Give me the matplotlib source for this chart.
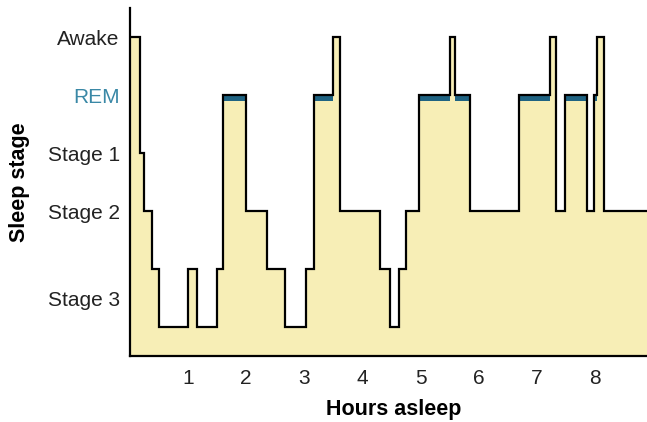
import matplotlib.pyplot as plt
import numpy as np

plt.rcParams['font.family'] = ['Liberation Sans', 'DejaVu Sans']

# hypnogram: start hour of each segment and the level held until the next one
# levels: 5 awake, 4 REM, 3 stage 1, 2 stage 2, 1 / 0 stage 3 (light / deep)
seg_start = [0.0, 0.17, 0.24, 0.375, 0.50, 1.0, 1.15, 1.49, 1.60, 2.0,
             2.35, 2.67, 3.03, 3.17, 3.50, 3.62, 4.31, 4.47, 4.63, 4.75,
             4.98, 5.51, 5.59, 5.86, 6.70, 7.23, 7.34, 7.48, 7.86, 7.98,
             8.04, 8.16]
seg_level = [5, 3, 2, 1, 0, 1, 0, 1, 4, 2,
             1, 0, 1, 4, 5, 2, 1, 0, 1, 2,
             4, 5, 4, 2, 4, 5, 2, 4, 2, 4,
             5, 2]
end_hour = 8.9

stage_names = ["Stage 3", "Stage 2", "Stage 1", "REM", "Awake"]
stage_pos = [0.5, 2, 3, 4, 5]
hour_ticks = [1, 2, 3, 4, 5, 6, 7, 8]

fill_col = "#f7eeb6"
rem_col = "#1f6382"

x = np.array(seg_start + [end_hour])
y = np.array(seg_level + [seg_level[-1]])

fig = plt.figure(figsize=(6.47, 4.22), dpi=100)
ax = fig.add_axes([0.201, 0.156, 0.799, 0.825])

ax.fill_between(x, -0.5, y, step="post", color=fill_col, lw=0)

# blue band under the REM plateaus
for i in range(len(seg_level)):
    if seg_level[i] == 4:
        x0 = seg_start[i]
        x1 = x[i + 1]
        ax.fill_between([x0, x1], 3.9, 4.0, color=rem_col, lw=0)

ax.step(x, y, where="post", color="black", lw=1.6, solid_joinstyle="miter")

ax.set_xlim(0, end_hour)
ax.set_ylim(-0.5, 5.5)

ax.spines["top"].set_visible(False)
ax.spines["right"].set_visible(False)
ax.spines["left"].set_linewidth(1.6)
ax.spines["bottom"].set_linewidth(1.6)

ax.set_xticks(hour_ticks)
ax.set_xticklabels([str(h) for h in hour_ticks])
ax.set_yticks(stage_pos)
ax.set_yticklabels(stage_names)
ax.tick_params(axis="both", length=0, labelsize=15, colors="#222222")
ax.tick_params(axis="y", pad=7.5)
ax.tick_params(axis="x", pad=9)
ax.get_yticklabels()[3].set_color("#3a88a6")

fig.text(20 / 647, 1 - 182 / 422, "Sleep stage", fontsize=15.5, fontweight="bold",
         rotation=90, ha="center", va="center")
fig.text(394 / 647, 1 - 410 / 422, "Hours asleep", fontsize=15.5, fontweight="bold",
         ha="center", va="center")

plt.savefig("out.png", dpi=100)
